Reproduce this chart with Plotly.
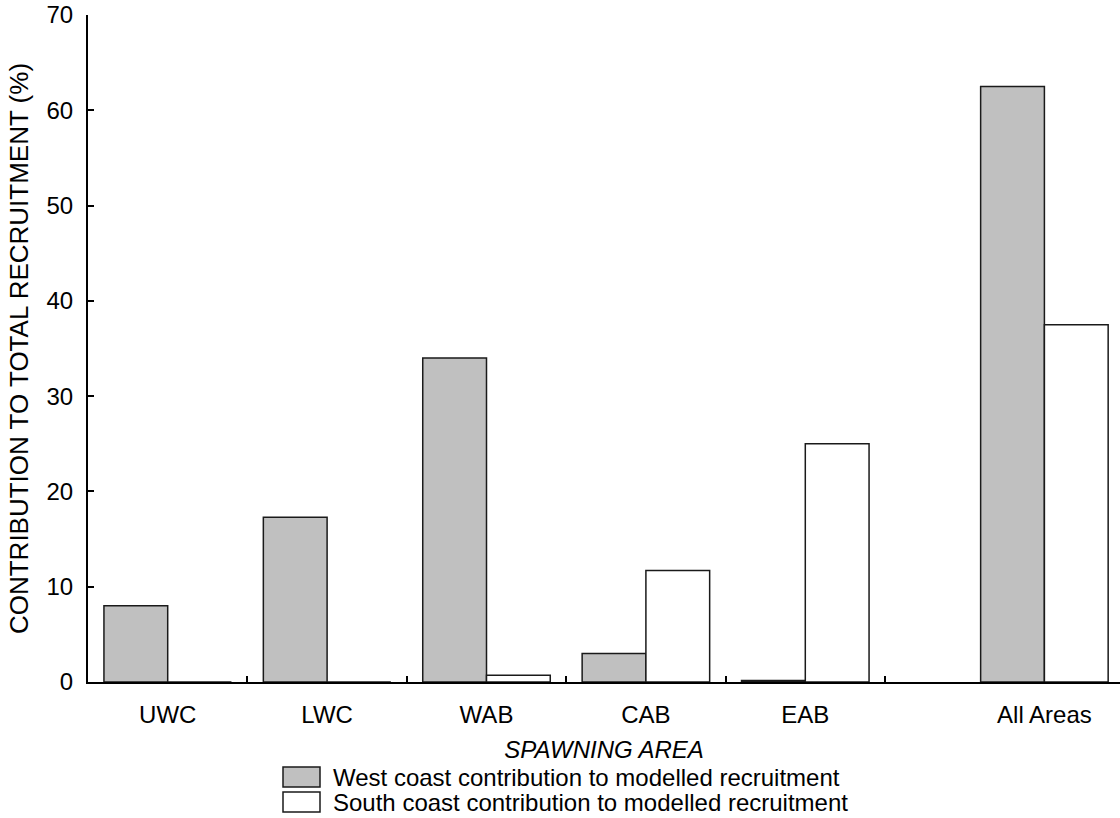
import plotly.graph_objects as go

# Spawning areas and their positions along the x axis ("All Areas" set apart)
areas = ["UWC", "LWC", "WAB", "CAB", "EAB", "All Areas"]
area_pos = [1, 2, 3, 4, 5, 6.5]

# Contribution to total recruitment (%)
west_coast = [8.0, 17.3, 34.0, 3.0, 0.15, 62.5]
south_coast = [0.0, 0.0, 0.7, 11.7, 25.0, 37.5]

y_ticks = [0, 10, 20, 30, 40, 50, 60, 70]
x_divider_ticks = [1.5, 2.5, 3.5, 4.5, 5.5]
top_ticks = [1, 2, 3, 4, 5]

legend_labels = [
    "West coast contribution to modelled recruitment",
    "South coast contribution to modelled recruitment",
]
fills = ["#c0c0c0", "#ffffff"]

FONT = "Arial, Liberation Sans, sans-serif"
W, H = 1120, 818
ML, MR, MT, MB = 88, 0, 15, 136
PW, PH = W - ML - MR, H - MT - MB

edge = dict(color="#1a1a1a", width=1.5)

fig = go.Figure()
fig.add_trace(go.Bar(
    x=area_pos, y=west_coast, width=0.4, offset=-0.4,
    marker=dict(color=fills[0], line=edge), name=legend_labels[0], showlegend=False,
))
fig.add_trace(go.Bar(
    x=area_pos, y=south_coast, width=0.4, offset=0.0,
    marker=dict(color=fills[1], line=edge), name=legend_labels[1], showlegend=False,
))


def px_x(px):
    return (px - ML) / PW


def px_y(py):
    return (MT + PH - py) / PH


# Legend drawn below the axis title with large swatches
shapes = []
annotations = []
for i, (label, fill) in enumerate(zip(legend_labels, fills)):
    top = 767 + i * 25
    shapes.append(dict(
        type="rect", xref="paper", yref="paper",
        x0=px_x(283), x1=px_x(320), y0=px_y(top + 20), y1=px_y(top),
        fillcolor=fill, line=dict(color="#1a1a1a", width=1.5), layer="above",
    ))
    annotations.append(dict(
        xref="paper", yref="paper", x=px_x(331), y=px_y(top + 10),
        xanchor="left", yanchor="middle", text=label, showarrow=False,
        font=dict(family=FONT, size=24, color="#000000"),
    ))

fig.update_layout(
    width=W, height=H,
    margin=dict(l=ML, r=MR, t=MT, b=MB, pad=0),
    paper_bgcolor="white", plot_bgcolor="white",
    barmode="overlay",
    font=dict(family=FONT, size=24, color="#000000"),
    shapes=shapes, annotations=annotations,
    xaxis=dict(
        range=[0.5, 0.5 + PW / 159.4],
        tickmode="array", tickvals=area_pos, ticktext=areas,
        ticks="", showgrid=False, zeroline=False,
        showline=True, linecolor="#000000", linewidth=2,
        ticklabelstandoff=10,
        minor=dict(tickmode="array", tickvals=x_divider_ticks, ticks="inside",
                   ticklen=6, tickwidth=1.5, tickcolor="#000000", showgrid=False),
        title=dict(text="<i>SPAWNING AREA</i>", standoff=14,
                   font=dict(family=FONT, size=24)),
        fixedrange=True,
    ),
    xaxis2=dict(
        overlaying="x", side="top", anchor="y",
        range=[0, PW / 172.7],
        tickmode="array", tickvals=top_ticks, ticks="inside",
        ticklen=6, tickwidth=1.5, tickcolor="#000000",
        showticklabels=False, showgrid=False, zeroline=False,
        showline=True, linecolor="#000000", linewidth=2,
    ),
    yaxis=dict(
        range=[0, 70], tickmode="array", tickvals=y_ticks,
        ticks="inside", ticklen=6, tickwidth=1.5, tickcolor="#000000",
        showgrid=False, zeroline=False,
        showline=True, linecolor="#000000", linewidth=2,
        ticklabelstandoff=8,
        title=dict(text="CONTRIBUTION TO TOTAL RECRUITMENT (%)", standoff=10,
                   font=dict(family=FONT, size=26)),
    ),
    yaxis2=dict(
        overlaying="y", side="right", anchor="x",
        range=[0, 70], tickmode="array", tickvals=y_ticks,
        ticks="inside", ticklen=2, tickwidth=1.5, tickcolor="#000000",
        showticklabels=False, showgrid=False, zeroline=False, showline=False,
    ),
)

fig.write_html("out.html")
